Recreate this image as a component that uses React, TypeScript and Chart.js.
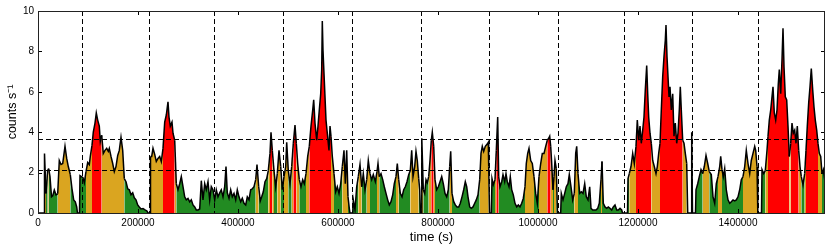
import React, { useEffect, useRef } from 'react';
import { Chart, registerables } from 'chart.js';

Chart.register(...registerables);

// Light curve: [time (ks), counts s^-1]; zeros mark the gaps between observations
const lightCurve: [number, number][] = [
  [0, 0], [12, 0], [13, 2.95], [16, 0.97], [19.4, 2.13], [21.4, 2.2], [24, 1.8], [27, 0.8], [29.4, 0.85], [32.6, 1.14],
  [36, 0.9], [39.4, 0.95], [42.6, 2.6], [46, 2.4], [49.4, 2.45], [54, 3.3], [57.4, 2.7], [60.6, 2.3], [64.6, 1.9], [68, 1.2],
  [71.4, 0.65], [74.6, 0.55], [77.4, 0.3], [79, 0], [83, 0],
  [84, 1.85], [87, 1.8], [90, 1.75], [92.6, 1.5], [96, 2.05], [99.4, 2.5], [102.6, 2.4], [104.6, 2.8], [108, 3.35], [110.6, 4.0],
  [114, 4.45], [116.6, 4.95], [119.4, 4.6], [122.6, 4.3], [124.6, 3.55], [127.4, 3.85], [130.6, 2.95], [134, 3.1], [137.4, 3.2], [140.6, 3.05],
  [142.6, 3.2], [146, 2.8], [149.4, 2.45], [152.6, 2.05], [156, 2.3], [159.4, 2.85], [162.6, 3.1], [166, 3.75], [169.4, 3.1], [172.6, 1.7],
  [176, 1.55], [179.4, 1.2], [182.6, 1.15], [186, 0.9], [189.4, 1.0], [192.6, 0.75], [196, 0.65], [199.4, 0.4], [202.6, 0.3], [206, 0.2],
  [210, 0.22], [214, 0.15], [218, 0.1], [220, 0], [224, 0],
  [225, 2.8], [227.4, 2.8], [230, 3.2], [233.4, 2.9], [236.6, 2.55], [240, 2.7], [243.4, 2.8], [246.6, 2.55], [250, 3.2], [253.4, 4.5],
  [256.6, 4.85], [260, 5.5], [262, 4.75], [264.6, 4.3], [268, 4.5], [270, 3.95], [273.4, 3.6], [276.6, 1.45], [280, 1.15], [283.4, 1.45],
  [286.6, 1.8], [290, 1.3], [293.4, 0.8], [296.6, 0.65], [300, 0.72], [303.4, 0.55], [306.6, 0.65], [310, 0.4], [313.4, 0.3], [316.6, 0.15],
  [320, 0.15], [323.4, 0.2], [326.6, 1.6], [330, 0.65], [333.4, 1.45], [336.6, 1.15], [340, 1.55], [343.4, 0.65], [346.6, 1.3], [350, 1.15],
  [353.4, 0.65], [356.6, 1.15], [360, 0.8], [363.4, 1.0], [366.6, 1.15], [370, 0.8], [373.4, 1.3], [376, 2.3], [378.6, 1.0], [382, 0.73],
  [385.4, 1.15], [388.6, 0.8], [392, 0.97], [395.4, 0.65], [398.6, 1.15], [402, 0.8], [405.4, 0.56], [408.6, 0.73], [412, 0.48], [415.4, 0.4],
  [418.6, 0.8], [422, 0.65], [425.4, 1.15], [428.6, 1.2], [432, 1.3], [435.4, 1.65], [438, 2.4], [441.4, 1.3], [444.6, 0.6], [447.4, 0.8],
  [450.6, 1.05], [454, 1.55], [457.4, 1.7], [460.6, 2.1], [464, 2.95], [466, 4.0], [468.6, 3.1], [472, 2.1], [475.4, 1.3], [478.6, 1.95],
  [482, 3.1], [485.4, 2.3], [488.6, 1.15], [492, 1.8], [495.4, 2.3], [497.4, 3.5], [500.6, 2.1], [504, 1.45], [507.4, 2.3], [510.6, 3.45],
  [514, 4.35], [516.6, 3.45], [519.4, 2.45], [522.6, 1.65], [526, 1.3], [529.4, 1.65], [532.6, 1.45], [536, 1.95], [539.4, 2.8], [542.6, 3.3],
  [546, 4.3], [549.4, 5.1], [551.4, 5.6], [554, 4.45], [557.4, 3.6], [560, 4.3], [562.6, 5.1], [565.4, 5.9], [567.4, 7.1], [568.6, 9.5],
  [570, 8.05], [572, 6.9], [574, 5.75], [576, 4.6], [578.6, 3.95], [582, 3.1], [584, 4.3], [586, 3.8], [588.6, 2.8], [592, 1.95],
  [595.4, 1.05], [598.6, 1.3], [602, 0.97], [605.4, 1.45], [608.6, 2.3], [612, 3.1], [614.6, 1.45], [617.4, 3.1], [620, 0.8], [622.6, 0.23],
  [624, 0], [629.4, 0],
  [630.6, 0.65], [634, 0.15], [637.4, 1.3], [640.6, 1.8], [644, 2.4], [647.4, 1.3], [650.6, 1.95], [654, 1.15], [657.4, 1.65], [660.6, 2.6],
  [664, 1.95], [667.4, 1.65], [670.6, 1.9], [674.6, 1.55], [678, 2.05], [680, 2.45], [682.6, 1.8], [686, 1.95], [689.4, 1.65], [692.6, 1.3],
  [696, 0.97], [699.4, 0.65], [702.6, 0.4], [706, 0.56], [709.4, 0.9], [712.6, 1.45], [716, 1.8], [718.6, 2.45], [721.4, 1.65], [724.6, 0.97],
  [728, 0.8], [731.4, 1.15], [734.6, 1.3], [738, 1.55], [741.4, 1.9], [744.6, 2.1], [747.4, 3.1], [750, 1.8], [753.4, 2.3], [756, 3.05],
  [758.6, 2.6], [761.4, 1.7], [763.4, 1.15], [765, 0], [766.6, 0], [767.6, 3.7], [770.6, 1.15], [773.4, 0.97], [776, 1.65], [778.6, 1.5],
  [781.4, 1.8], [784, 2.6], [786.6, 3.6], [788.6, 4.0], [791.4, 3.3], [794, 1.65], [797.4, 1.15], [800.6, 1.3], [804, 1.55], [807.4, 1.8],
  [810.6, 1.45], [814, 0.97], [817.4, 0.8], [820.6, 1.15], [823.4, 2.3], [825.4, 3.05], [828, 0.97], [831.4, 0.56], [834.6, 0.4], [838, 0.3],
  [841.4, 0.3], [844.6, 0.48], [848, 0.8], [851.4, 1.15], [854.6, 1.55], [857.4, 1.3], [860, 0.8], [863.4, 0.3], [866.6, 0.23], [870, 0.3],
  [873.4, 0.48], [876.6, 0.65], [880, 0.9], [883.4, 1.65], [886, 2.95], [888.6, 3.3], [891.4, 3.05], [894.6, 3.3], [898, 3.4], [900.6, 3.5],
  [901.4, 2.3], [903, 0], [906.6, 0],
  [908, 1.7], [910.6, 1.4], [914, 1.65], [916.6, 3.1], [919.4, 4.75], [921.4, 1.8], [924, 1.3], [927.4, 1.55], [930, 1.9], [933.4, 1.55],
  [936, 1.95], [938.6, 1.55], [942, 1.3], [944.6, 1.8], [947.4, 1.15], [950.6, 0.9], [954, 0.48], [957.4, 0.3], [960.6, 0.4], [964, 0.3],
  [967.4, 0.48], [970.6, 0.72], [974, 1.3], [976.6, 2.45], [979.4, 2.95], [982, 3.2], [985.4, 2.6], [988.6, 2.45], [992, 1.8], [995.4, 0.97],
  [998.6, 0.48], [1002, 1.8], [1005.4, 2.45], [1008.6, 2.95], [1012, 2.95], [1015.4, 3.3], [1018.6, 3.6], [1021.4, 3.7], [1023.4, 3.8], [1025.4, 3.3],
  [1027.4, 2.45], [1030, 1.15], [1032, 1.8], [1034, 2.6], [1036.6, 2.2], [1039, 0], [1045.4, 0],
  [1046.6, 0.97], [1050, 0.65], [1053.4, 0.97], [1056.6, 1.3], [1060, 1.45], [1062.6, 1.9], [1066, 1.3], [1069.4, 0.65], [1072.6, 0.97], [1075.4, 2.95],
  [1077.4, 3.3], [1080, 1.95], [1083.4, 0.97], [1086.6, 1.05], [1090, 0.97], [1093.4, 1.45], [1096.6, 0.8], [1100, 0.65], [1103.4, 1.3], [1106, 0.23],
  [1109.4, 0.15], [1112, 0.15], [1116, 0.15], [1119.4, 0.23], [1122.6, 0.48], [1126, 1.65], [1128, 2.55], [1130.6, 0.48], [1134, 0.3], [1137.4, 0.23],
  [1140.6, 0.3], [1144, 0.23], [1147.4, 0.15], [1150.6, 0.3], [1154, 0.4], [1157.4, 0.15], [1160.6, 0.15], [1164, 0.23], [1167.4, 0.15], [1169, 0],
  [1179, 0],
  [1180, 1.7], [1182.6, 1.95], [1186, 2.3], [1189.4, 2.95], [1192.6, 2.45], [1196, 3.3], [1198.6, 4.6], [1201.4, 3.6], [1204, 4.3], [1206.6, 3.45],
  [1209.4, 4.1], [1212, 4.75], [1214.6, 6.1], [1217.4, 7.3], [1219.4, 5.9], [1221.4, 4.75], [1224, 3.95], [1226.6, 3.45], [1229.4, 2.6], [1232.6, 2.3],
  [1236, 1.95], [1238.6, 2.3], [1241.4, 2.95], [1244, 3.45], [1246.6, 5.1], [1249.4, 6.75], [1252, 7.75], [1254.6, 8.55], [1256, 9.3], [1258, 7.75],
  [1260, 6.75], [1262, 5.75], [1264, 6.25], [1266.6, 5.1], [1269.4, 5.9], [1272, 3.8], [1274.6, 4.45], [1277.4, 3.45], [1280, 3.95], [1282.6, 5.1],
  [1284.6, 6.25], [1286.6, 5.1], [1289.4, 3.6], [1292, 3.45], [1294.6, 2.95], [1297.4, 2.45], [1299.4, 0], [1306, 0], [1307.4, 4.0], [1309, 0],
  [1315, 0],
  [1316, 1.15], [1319.4, 1.45], [1322.6, 1.8], [1326, 2.15], [1329.4, 1.95], [1332.6, 2.3], [1336, 2.85], [1339.4, 2.45], [1342.6, 2.05], [1346.6, 1.9],
  [1350, 0.8], [1353.4, 0.48], [1356.6, 1.45], [1360, 1.8], [1363.4, 2.3], [1365.4, 2.8], [1368, 2.15], [1370.6, 1.8], [1373.4, 2.2], [1376.6, 1.15],
  [1380, 0.65], [1383.4, 0.48], [1386.6, 0.56], [1390, 0.65], [1393.4, 0.6], [1396.6, 0.65], [1400, 0.8], [1403.4, 1.15], [1406.6, 1.65], [1410, 1.8],
  [1413.4, 2.3], [1416.6, 3.1], [1420, 2.45], [1423.4, 1.95], [1426.6, 2.6], [1430, 2.95], [1433.4, 3.3], [1435.4, 3.1], [1438, 2.3], [1439.6, 0],
  [1447, 0],
  [1448, 2.15], [1451.4, 1.95], [1454.6, 2.1], [1458, 3.1], [1460, 3.8], [1462.6, 4.6], [1465.4, 5.1], [1468, 5.75], [1470, 6.25], [1472.6, 4.95],
  [1475.4, 4.6], [1478, 5.1], [1480.6, 6.4], [1482.6, 7.1], [1485.4, 5.9], [1488, 7.6], [1490, 9.15], [1492, 7.25], [1494.6, 5.75], [1497.4, 5.6],
  [1500, 4.3], [1502.6, 2.8], [1505.4, 3.45], [1508, 4.45], [1510.6, 3.95], [1513.4, 4.1], [1516, 3.45], [1518.6, 4.3], [1521.4, 3.1], [1524, 2.3],
  [1526.6, 1.8], [1530, 1.4], [1533.4, 1.95], [1536, 3.1], [1538.6, 4.3], [1541.4, 5.45], [1544, 6.25], [1546.6, 7.15], [1549.4, 6.1], [1552, 5.25],
  [1554.6, 4.6], [1557.4, 4.1], [1560, 3.45], [1562.6, 2.95], [1565.4, 2.8], [1568, 1.95], [1570.6, 2.15], [1573.4, 1.65],
];

// Observation boundaries (ks) and count-rate level thresholds
const boundaryTimesKs = [87.4, 222, 352, 489.4, 627.4, 765.4, 902.6, 1040.6, 1171.4, 1308.6, 1440.6];
const levelThresholds = [2.11, 3.66];
const levelColors = ['#228b22', '#daa520', '#ff0000'];
const xTicks = [0, 200000, 400000, 600000, 800000, 1000000, 1200000, 1400000];
const yTicks = [0, 2, 4, 6, 8, 10];
const X_MAX = 1574000;
const Y_MAX = 10;

const FONT = '"Liberation Sans", Arial, Helvetica, sans-serif';

function colorFor(v: number): string {
  if (v >= levelThresholds[1]) return levelColors[2];
  if (v >= levelThresholds[0]) return levelColors[1];
  return levelColors[0];
}

const framePlugin = {
  id: 'frameAndGuides',
  afterDatasetsDraw(chart: any) {
    const { ctx, chartArea, scales } = chart;
    const { left, right, top, bottom } = chartArea;
    const x = scales.x;
    const y = scales.y;
    ctx.save();
    // dashed guides
    ctx.strokeStyle = '#000';
    ctx.lineWidth = 1;
    ctx.setLineDash([5, 3]);
    for (const t of boundaryTimesKs) {
      const px = Math.round(x.getPixelForValue(t * 1000)) + 0.5;
      ctx.beginPath();
      ctx.moveTo(px, top);
      ctx.lineTo(px, bottom);
      ctx.stroke();
    }
    for (const v of levelThresholds) {
      const py = Math.round(y.getPixelForValue(v)) + 0.5;
      ctx.beginPath();
      ctx.moveTo(left, py);
      ctx.lineTo(right, py);
      ctx.stroke();
    }
    ctx.setLineDash([]);
    // inward ticks
    ctx.strokeStyle = '#000';
    ctx.lineWidth = 1;
    const tl = 4;
    for (const t of xTicks) {
      const px = Math.round(x.getPixelForValue(t)) + 0.5;
      ctx.beginPath();
      ctx.moveTo(px, bottom);
      ctx.lineTo(px, bottom - tl);
      ctx.moveTo(px, top);
      ctx.lineTo(px, top + tl);
      ctx.stroke();
    }
    for (const v of yTicks) {
      const py = Math.round(y.getPixelForValue(v)) + 0.5;
      ctx.beginPath();
      ctx.moveTo(left, py);
      ctx.lineTo(left + tl, py);
      ctx.moveTo(right, py);
      ctx.lineTo(right - tl, py);
      ctx.stroke();
    }
    // frame
    ctx.strokeStyle = '#222';
    ctx.strokeRect(Math.round(left) + 0.5, Math.round(top) + 0.5, Math.round(right - left) - 1, Math.round(bottom - top));
    ctx.restore();
  },
};

export default function App() {
  const canvasRef = useRef<HTMLCanvasElement | null>(null);

  useEffect(() => {
    const canvas = canvasRef.current;
    if (!canvas) return;
    const chart = new Chart(canvas, {
      type: 'line',
      data: {
        datasets: [
          {
            data: lightCurve.map(([t, v]) => ({ x: t * 1000, y: v })),
            borderColor: '#000',
            borderWidth: 1.5,
            pointRadius: 0,
            tension: 0,
            fill: 'origin',
            backgroundColor: levelColors[0],
            segment: {
              backgroundColor: (c: any) => {
                const a = c.p0.parsed.y;
                const b = c.p1.parsed.y;
                return colorFor(0.75 * Math.max(a, b) + 0.25 * Math.min(a, b));
              },
            },
          } as any,
        ],
      },
      options: {
        animation: false,
        responsive: false,
        devicePixelRatio: 1,
        maintainAspectRatio: false,
        layout: { padding: { top: 11, right: 6, bottom: 0, left: 0 } },
        plugins: { legend: { display: false }, tooltip: { enabled: false } },
        scales: {
          x: {
            type: 'linear',
            min: 0,
            max: X_MAX,
            grid: { display: false, drawTicks: false },
            border: { display: false },
            afterFit: (s: any) => {
              s.height = 38;
            },
            afterBuildTicks: (s: any) => {
              s.ticks = xTicks.map((v) => ({ value: v }));
            },
            ticks: {
              autoSkip: false,
              maxRotation: 0,
              padding: 4,
              color: '#000',
              font: { family: FONT, size: 10 },
              callback: (v: any) => String(v),
            },
            title: {
              display: true,
              text: 'time (s)',
              color: '#000',
              font: { family: FONT, size: 13 },
              padding: { top: 0, bottom: 6 },
            },
          },
          y: {
            type: 'linear',
            min: 0,
            max: Y_MAX,
            grid: { display: false, drawTicks: false },
            border: { display: false },
            afterFit: (s: any) => {
              s.width = 38;
            },
            afterBuildTicks: (s: any) => {
              s.ticks = yTicks.map((v) => ({ value: v }));
            },
            ticks: {
              padding: 4,
              color: '#000',
              font: { family: FONT, size: 10 },
              callback: (v: any) => String(v),
            },
            title: {
              display: true,
              text: 'counts s\u207B\u00B9',
              color: '#000',
              font: { family: FONT, size: 12.5 },
              padding: { top: 5, bottom: 0 },
            },
          },
        },
      } as any,
      plugins: [framePlugin],
    });
    return () => chart.destroy();
  }, []);

  return (
    <div style={{ position: 'fixed', left: 0, top: 0, width: 831, height: 251, background: '#fff' }}>
      <canvas ref={canvasRef} width={831} height={251} style={{ display: 'block' }} />
    </div>
  );
}
